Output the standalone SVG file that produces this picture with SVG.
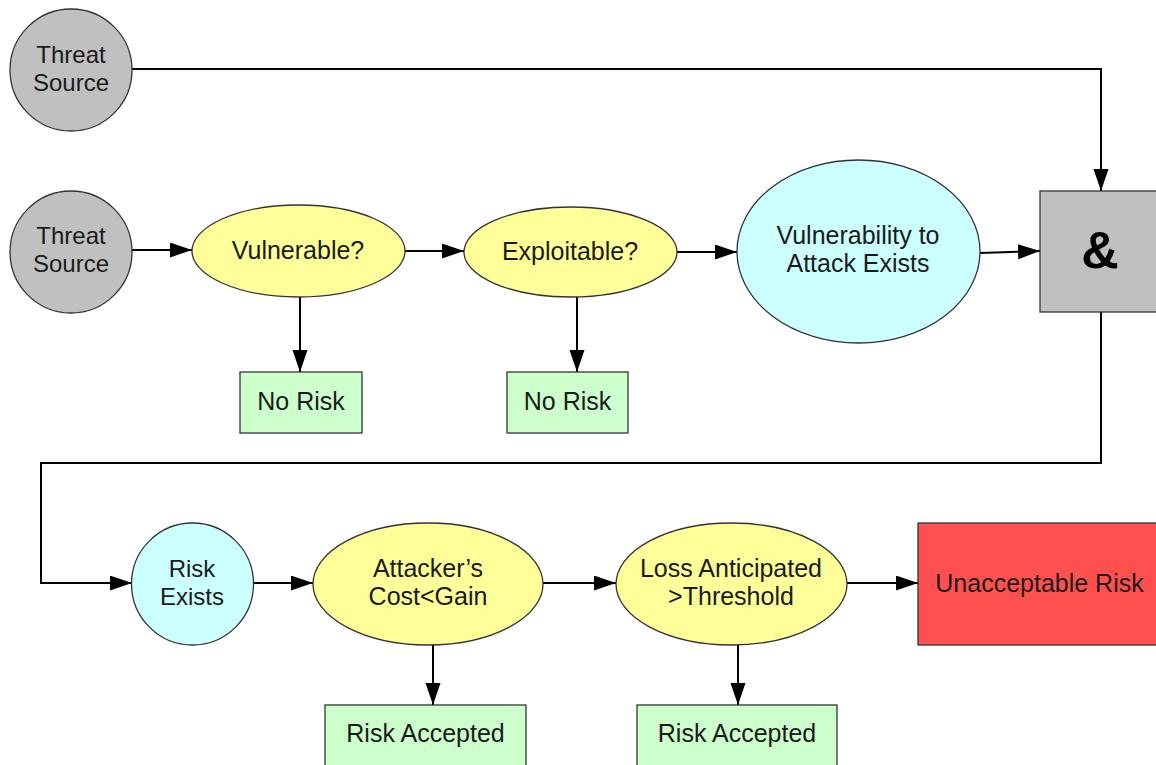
<svg xmlns="http://www.w3.org/2000/svg" width="1156" height="765" viewBox="0 0 1156 765">
<style>
  .shape { stroke: #333333; stroke-width: 1.3; }
  .gray { fill: #C0C0C0; }
  .yellow { fill: #FFFF99; }
  .cyan { fill: #CCFFFF; }
  .green { fill: #CCFFCC; }
  .red { fill: #FF5050; }
  .lbl { font-family: "Liberation Sans", Arial, sans-serif; font-size: 25px; fill: #1a1a1a; text-anchor: middle; }
  .sm { font-size: 24px; }
  .amp { font-family: "Liberation Sans", Arial, sans-serif; font-size: 52px; font-weight: bold; fill: #000; text-anchor: middle; }
  .conn { fill: none; stroke: #000; stroke-width: 2; }
</style>
<defs>
  <marker id="arrow" markerUnits="userSpaceOnUse" markerWidth="24" markerHeight="16" refX="22" refY="7.5" orient="auto">
    <path d="M0,0 L22,7.5 L0,15 Z" fill="#000"/>
  </marker>
</defs>
<rect width="1156" height="765" fill="#ffffff"/>

<g id="connectors">
  <path class="conn" d="M132,69 H1101 V191" marker-end="url(#arrow)"/>
  <path class="conn" d="M132,250 H192" marker-end="url(#arrow)"/>
  <path class="conn" d="M405,251 H464" marker-end="url(#arrow)"/>
  <path class="conn" d="M300,297 V372" marker-end="url(#arrow)"/>
  <path class="conn" d="M677,252 H737" marker-end="url(#arrow)"/>
  <path class="conn" d="M577,297 V372" marker-end="url(#arrow)"/>
  <path class="conn" d="M980,253 L1040,251" marker-end="url(#arrow)"/>
  <path class="conn" d="M1101,312 V463 H41 V583 H132" marker-end="url(#arrow)"/>
  <path class="conn" d="M253,583 H313" marker-end="url(#arrow)"/>
  <path class="conn" d="M543,583 H616" marker-end="url(#arrow)"/>
  <path class="conn" d="M433,645 V705" marker-end="url(#arrow)"/>
  <path class="conn" d="M847,583 H918" marker-end="url(#arrow)"/>
  <path class="conn" d="M738,645 V705" marker-end="url(#arrow)"/>
</g>

<g id="threat-source-1">
  <circle class="shape gray" cx="71" cy="70" r="61"/>
  <text class="lbl sm" x="71" y="63">Threat</text>
  <text class="lbl sm" x="71" y="91">Source</text>
</g>
<g id="threat-source-2">
  <circle class="shape gray" cx="71" cy="252" r="61"/>
  <text class="lbl sm" x="71" y="244">Threat</text>
  <text class="lbl sm" x="71" y="272">Source</text>
</g>
<g id="vulnerable">
  <ellipse class="shape yellow" cx="298.5" cy="251" rx="106.5" ry="46"/>
  <text class="lbl" x="298" y="259">Vulnerable?</text>
</g>
<g id="exploitable">
  <ellipse class="shape yellow" cx="570.5" cy="252" rx="106.5" ry="45"/>
  <text class="lbl" x="570" y="260">Exploitable?</text>
</g>
<g id="vuln-attack">
  <ellipse class="shape cyan" cx="858.5" cy="251.5" rx="121.5" ry="91.5"/>
  <text class="lbl" x="858" y="244">Vulnerability to</text>
  <text class="lbl" x="858" y="272">Attack Exists</text>
</g>
<g id="and-gate">
  <rect class="shape gray" x="1040" y="191" width="124" height="121"/>
  <text class="amp" x="1100" y="268">&amp;</text>
</g>
<g id="no-risk-1">
  <rect class="shape green" x="240" y="372" width="122" height="61"/>
  <text class="lbl" x="301" y="410">No Risk</text>
</g>
<g id="no-risk-2">
  <rect class="shape green" x="507" y="372" width="121" height="61"/>
  <text class="lbl" x="567.5" y="410">No Risk</text>
</g>
<g id="risk-exists">
  <circle class="shape cyan" cx="192.5" cy="584" r="61"/>
  <text class="lbl sm" x="192" y="577">Risk</text>
  <text class="lbl sm" x="192" y="605">Exists</text>
</g>
<g id="attacker-cost">
  <ellipse class="shape yellow" cx="428" cy="584" rx="115" ry="61"/>
  <text class="lbl" x="428" y="577">Attacker’s</text>
  <text class="lbl" x="428" y="605">Cost&lt;Gain</text>
</g>
<g id="loss-threshold">
  <ellipse class="shape yellow" cx="731.5" cy="584" rx="115.5" ry="61"/>
  <text class="lbl" x="731" y="577">Loss Anticipated</text>
  <text class="lbl" x="731" y="605">&gt;Threshold</text>
</g>
<g id="unacceptable-risk">
  <rect class="shape red" x="918" y="523" width="245" height="122"/>
  <text class="lbl" x="1039.5" y="592">Unacceptable Risk</text>
</g>
<g id="risk-accepted-1">
  <rect class="shape green" x="325" y="705" width="201" height="62"/>
  <text class="lbl" x="425.5" y="742">Risk Accepted</text>
</g>
<g id="risk-accepted-2">
  <rect class="shape green" x="637" y="705" width="200" height="62"/>
  <text class="lbl" x="737" y="742">Risk Accepted</text>
</g>
</svg>
